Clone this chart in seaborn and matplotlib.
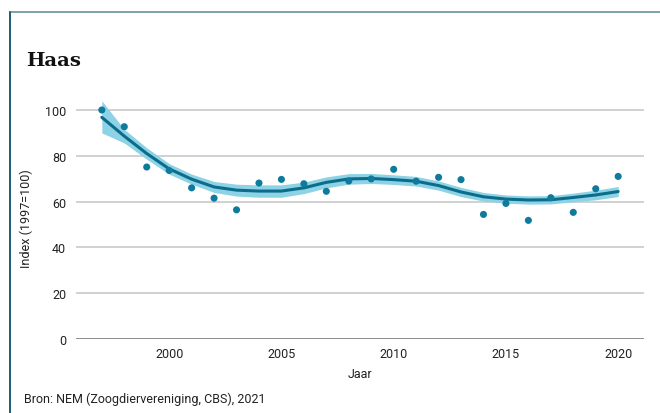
import numpy as np
import pandas as pd
import matplotlib
matplotlib.use("Agg")
import matplotlib.pyplot as plt
from matplotlib.lines import Line2D
import seaborn as sns

# data
years = list(range(1997, 2021))
index_values = [100.0, 92.7, 75.1, 73.6, 66.0, 61.5, 56.4, 68.1, 69.7, 67.8, 64.5, 69.0,
                69.9, 74.1, 68.9, 70.6, 69.6, 54.4, 59.2, 51.8, 61.7, 55.3, 65.6, 71.0]
trend = [96.8, 88.6, 81.0, 74.3, 69.8, 66.4, 65.0, 64.6, 64.6, 66.0, 68.4, 69.9,
         70.1, 69.6, 68.9, 67.0, 64.2, 62.1, 61.1, 60.7, 60.8, 61.8, 62.9, 64.4]
upper = [104.0, 91.6, 83.5, 76.6, 72.0, 68.8, 67.6, 67.3, 67.3, 68.5, 70.8, 72.2,
         72.3, 71.7, 71.0, 69.0, 66.2, 64.0, 62.9, 62.5, 62.6, 63.7, 65.0, 66.6]
lower = [90.0, 85.6, 78.5, 72.0, 67.6, 64.0, 62.4, 61.9, 61.9, 63.5, 66.0, 67.6,
         67.9, 67.5, 66.8, 65.0, 62.2, 60.2, 59.3, 58.9, 59.0, 59.9, 60.8, 62.2]
y_ticks = [0, 20, 40, 60, 80, 100]
x_ticks = [2000, 2005, 2010, 2015, 2020]

df = pd.DataFrame({"Jaar": years, "index": index_values, "trend": trend,
                   "upper": upper, "lower": lower})

sns.set_style("white")
plt.rcParams['font.family'] = ['Roboto', 'DejaVu Sans']

line_col = "#0b6d8b"
dot_col = "#0e7b9d"
band_col = "#8dd2e5"
txt_col = "#222222"

fig = plt.figure(figsize=(6.6, 4.14), dpi=100)
ax = fig.add_axes([76 / 660, 74 / 414, 568 / 660, 106 * 2.29 / 414])

ax.fill_between(df["Jaar"], df["lower"], df["upper"], color=band_col, lw=0, zorder=2)
sns.lineplot(data=df, x="Jaar", y="trend", color=line_col, lw=2.2, ax=ax, zorder=3)
sns.scatterplot(data=df, x="Jaar", y="index", color=dot_col, s=26, edgecolor="none",
                ax=ax, zorder=4)

ax.set_xlim(1995.85, 2021.15)
ax.set_ylim(0, 106)
ax.set_xticks(x_ticks)
ax.set_yticks(y_ticks)
ax.yaxis.grid(True, color="#c9c9c9", lw=1.2)
ax.xaxis.grid(False)
ax.axhline(0, color="#8a8a8a", lw=1.3, zorder=1)
for s in ax.spines.values():
    s.set_visible(False)
ax.tick_params(axis="both", length=0, labelsize=9, colors=txt_col)
ax.tick_params(axis="y", pad=7)
ax.tick_params(axis="x", pad=6)
ax.set_xlabel("Jaar", fontsize=9, color=txt_col, labelpad=5)
ax.set_ylabel("Index (1997=100)", fontsize=9, color=txt_col, labelpad=9)

# title and source
fig.text(26 / 660, 1 - 66 / 414, "Haas", fontsize=14, fontweight="bold",
         family=["DejaVu Serif"], color="#111111", va="baseline")
fig.text(24 / 660, 1 - 399 / 414, "Bron: NEM (Zoogdiervereniging, CBS), 2021",
         fontsize=9, color=txt_col, va="center")

# frame lines
fig.add_artist(Line2D([9.5 / 660, 1], [1 - 13 / 414, 1 - 13 / 414],
                      transform=fig.transFigure, color="#7ba3ad", lw=1.4))
fig.add_artist(Line2D([9.5 / 660, 9.5 / 660], [0, 1 - 13 / 414],
                      transform=fig.transFigure, color="#1d5e73", lw=1.4))

fig.savefig("out.png", dpi=100)
